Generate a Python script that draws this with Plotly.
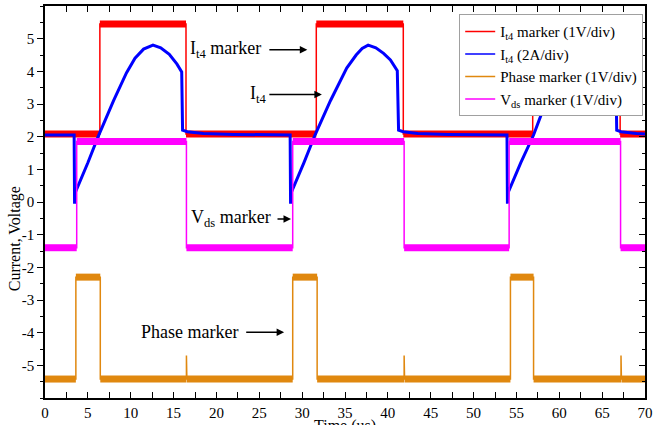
import plotly.graph_objects as go

# ---- data (time in us) ----
red_t = [0, 6.4, 6.4, 16.45, 16.45, 31.65, 31.65, 41.8, 41.8, 56.9, 56.9, 67.1, 67.1, 70]
red_v = [2.08, 2.08, 5.45, 5.45, 2.08, 2.08, 5.45, 5.45, 2.08, 2.08, 5.45, 5.45, 2.08, 2.08]

blue_t = [0, 3.4, 3.45, 3.55, 5.0, 6.2, 8.0, 9.5, 10.5, 11.5, 12.6, 13.5, 14.5, 15.4, 15.95, 16.05,
          16.6, 18.5, 22, 28.6,
          28.65, 28.75, 30.2, 31.5, 33.3, 35.2, 36.3, 37.0, 37.7, 38.6, 39.5, 40.3, 41.1, 41.25,
          41.8, 43.5, 47, 53.9,
          53.95, 54.05, 55.5, 57.0, 58.0, 59.5, 61, 62, 63, 64, 65, 66.0, 66.6, 66.7,
          67.2, 69, 70]
blue_v = [2.05, 2.05, -0.05, 0.3, 1.2, 2.0, 3.1, 3.95, 4.4, 4.68, 4.8, 4.72, 4.52, 4.22, 3.98, 2.2,
          2.15, 2.1, 2.07, 2.05,
          -0.05, 0.3, 1.2, 2.05, 3.1, 4.1, 4.5, 4.7, 4.8, 4.72, 4.55, 4.35, 4.02, 2.2,
          2.15, 2.1, 2.07, 2.05,
          -0.05, 0.3, 1.2, 2.05, 2.75, 3.65, 4.3, 4.6, 4.78, 4.72, 4.45, 4.15, 3.95, 2.2,
          2.15, 2.1, 2.08]

phase_t = [0, 3.6, 3.6, 6.45, 6.45, 16.5, 16.5, 16.55, 28.9, 28.9, 31.75, 31.75, 41.9, 41.9, 41.95,
           54.3, 54.3, 57.0, 57.0, 67.2, 67.2, 67.25, 70]
phase_v = [-5.42, -5.42, -2.3, -2.3, -5.42, -5.42, -4.7, -5.42, -5.42, -2.3, -2.3, -5.42, -5.42, -4.7, -5.42,
           -5.42, -2.3, -2.3, -5.42, -5.42, -4.7, -5.42, -5.42]

vds_t = [0, 3.7, 3.7, 16.5, 16.5, 28.9, 28.9, 41.9, 41.9, 54.15, 54.15, 67.15, 67.15, 70]
vds_v = [-1.4, -1.4, 1.85, 1.85, -1.4, -1.4, 1.85, 1.85, -1.4, -1.4, 1.85, 1.85, -1.4, -1.4]

y_ticks = [-5, -4, -3, -2, -1, 0, 1, 2, 3, 4, 5]
y_ticktext = ["-5", "-4", "-3", "-2", "-1", "0", "1", "2", "3", "4", "5"]
x_ticks = [0, 5, 10, 15, 20, 25, 30, 35, 40, 45, 50, 55, 60, 65, 70]

# annotation labels: (text, text_t, text_v, tail_t, tip_t, arrow_v)
labels = [
    ("I<sub>t4</sub> marker", 21.0, 4.66, 26.0, 30.6, 4.66),
    ("I<sub>t4</sub>", 24.9, 3.29, 26.0, 32.3, 3.29),
    ("V<sub>ds</sub> marker", 21.7, -0.52, 26.95, 28.7, -0.52),
    ("Phase marker", 16.9, -3.99, 23.3, 27.9, -3.99),
]

FONT = "Liberation Serif, Times New Roman, serif"
RED, BLUE, ORANGE, MAG = "#ff0000", "#0000ff", "#e0880f", "#ff00ff"


def bands(t, v):
    bx, by = [], []
    for i in range(len(t) - 1):
        if v[i] == v[i + 1] and t[i + 1] > t[i]:
            bx += [t[i], t[i + 1], None]
            by += [v[i], v[i + 1], None]
    return bx, by


fig = go.Figure()


def add_marker(t, v, color, name):
    bx, by = bands(t, v)
    fig.add_trace(go.Scatter(x=bx, y=by, mode="lines", line=dict(color=color, width=7),
                             showlegend=False, hoverinfo="skip"))
    fig.add_trace(go.Scatter(x=t, y=v, mode="lines", line=dict(color=color, width=1.5), name=name))


add_marker(red_t, red_v, RED, "I<sub>t4</sub> marker (1V/div)")
fig.add_trace(go.Scatter(x=blue_t, y=blue_v, mode="lines", line=dict(color=BLUE, width=3),
                         showlegend=False))
fig.add_trace(go.Scatter(x=[None], y=[None], mode="lines", line=dict(color=BLUE, width=1.5),
                         name="I<sub>t4</sub> (2A/div)"))
add_marker(phase_t, phase_v, ORANGE, "Phase marker (1V/div)")
add_marker(vds_t, vds_v, MAG, "V<sub>ds</sub> marker (1V/div)")

# dummy trace to show right-side inside ticks
fig.add_trace(go.Scatter(x=[None], y=[None], yaxis="y2", showlegend=False, hoverinfo="skip"))

for text, tx, tv, tail, tip, av in labels:
    fig.add_annotation(x=tx, y=tv, text=text, showarrow=False, xanchor="center", yanchor="middle",
                       font=dict(family=FONT, size=18, color="black"))
    fig.add_annotation(x=tip, y=av, ax=tail, ay=av, axref="x", ayref="y", text="",
                       showarrow=True, arrowhead=2, arrowsize=1, arrowwidth=1.5, arrowcolor="black")

fig.add_annotation(xref="paper", yref="paper", x=-0.05, y=0.405, text="Current, Voltage",
                   textangle=-90, showarrow=False, xanchor="center", yanchor="middle",
                   font=dict(family=FONT, size=16, color="black"))
fig.add_annotation(xref="paper", yref="paper", x=0.5, y=-0.071, text="Time (us)",
                   xanchor="center", yanchor="middle",
                   showarrow=False, font=dict(family=FONT, size=16, color="black"))

tickfont = dict(family=FONT, size=15, color="black")
fig.update_layout(
    width=670, height=425,
    margin=dict(l=45, r=25, t=4, b=27),
    paper_bgcolor="white", plot_bgcolor="white",
    font=dict(family=FONT, color="black"),
    xaxis=dict(range=[0, 70], tickvals=x_ticks, showgrid=False, zeroline=False,
               showline=True, linecolor="black", linewidth=1.5, mirror="allticks",
               ticks="inside", ticklen=6, tickcolor="black", tickfont=tickfont,
               minor=dict(dtick=2.5, ticks="inside", ticklen=3, tickcolor="black")),
    yaxis=dict(range=[-6, 6], tickvals=y_ticks, ticktext=y_ticktext, showgrid=False, zeroline=False,
               showline=True, linecolor="black", linewidth=1.5, mirror=True,
               ticks="outside", ticklen=6, tickcolor="black", tickfont=tickfont,
               minor=dict(dtick=0.5, ticks="outside", ticklen=3, tickcolor="black")),
    yaxis2=dict(range=[-6, 6], overlaying="y", side="right", tickvals=y_ticks, showticklabels=False,
                showgrid=False, zeroline=False, showline=False,
                ticks="inside", ticklen=6, tickcolor="black",
                minor=dict(dtick=0.5, ticks="inside", ticklen=3, tickcolor="black")),
    legend=dict(x=0.997, y=0.979, xanchor="right", yanchor="top", bgcolor="white",
                bordercolor="#a0a0a0", borderwidth=1, font=dict(family=FONT, size=15, color="black"),
                tracegroupgap=0),
    showlegend=True,
)

fig.write_html("out.html", config={"displayModeBar": False},
               post_script="document.body.style.margin='0';document.body.style.overflow='hidden';")
